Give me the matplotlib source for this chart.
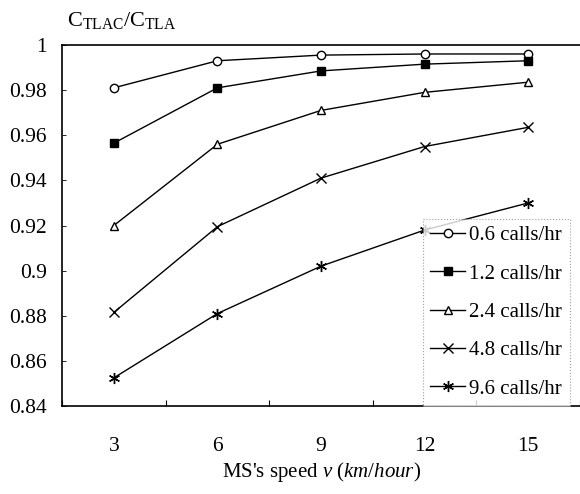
import matplotlib
matplotlib.use("Agg")
import matplotlib.pyplot as plt
import numpy as np

plt.rcParams['font.family'] = ['Liberation Serif', 'DejaVu Serif']
plt.rcParams['mathtext.fontset'] = 'custom'
plt.rcParams['mathtext.rm'] = 'Liberation Serif'
plt.rcParams['mathtext.it'] = 'Liberation Serif:italic'

speeds = ["3", "6", "9", "12", "15"]
labels = ["0.6 calls/hr", "1.2 calls/hr", "2.4 calls/hr", "4.8 calls/hr", "9.6 calls/hr"]
s06 = [0.981, 0.993, 0.9955, 0.996, 0.996]
s12 = [0.9565, 0.981, 0.9885, 0.9915, 0.993]
s24 = [0.920, 0.956, 0.971, 0.979, 0.9835]
s48 = [0.8815, 0.9195, 0.941, 0.955, 0.9635]
s96 = [0.8525, 0.881, 0.902, 0.918, 0.930]
yticks = [0.84, 0.86, 0.88, 0.90, 0.92, 0.94, 0.96, 0.98, 1.0]
ytick_labels = ["0.84", "0.86", "0.88", "0.9", "0.92", "0.94", "0.96", "0.98", "1"]

fig = plt.figure(figsize=(5.8, 4.94), dpi=100)
ax = fig.add_axes([0.107, 0.178, 0.893, 0.731])

x = np.arange(len(speeds))
styles = [
    dict(marker='o', mfc='white', ms=6),
    dict(marker='s', mfc='black', ms=6),
    dict(marker='^', mfc='white', ms=6),
    dict(marker='x', mfc='black', ms=7),
    dict(marker=(6, 2, 0), mfc='black', ms=8),
]
for ys, lab, st in zip([s06, s12, s24, s48, s96], labels, styles):
    ax.plot(x, ys, color='black', lw=1.0, mec='black', mew=1.0, label=lab, **st)

ax.set_xlim(-0.5, len(speeds) - 0.5)
ax.set_ylim(0.84, 1.0)
ax.set_xticks(x)
ax.set_xticklabels(speeds, fontsize=15.5)
ax.set_xticks(np.arange(-0.5, len(speeds)), minor=True)
ax.tick_params(axis='x', which='major', length=0, pad=22)
ax.tick_params(axis='x', which='minor', direction='in', length=4, width=0.8)
ax.set_yticks(yticks)
ax.set_yticklabels(ytick_labels, fontsize=15.5)
ax.tick_params(axis='y', direction='in', length=3, width=0.6, pad=11)

ax.spines['right'].set_visible(False)
for sp in ['left', 'bottom', 'top']:
    ax.spines[sp].set_linewidth(1.2)

ax.set_xlabel(r"MS's speed $\it{v}$ ($\it{km/hour}$)", fontsize=15, labelpad=3)
fig.text(0.115, 0.958, r"C$_{\rm TLAC}$/C$_{\rm TLA}$", fontsize=16, ha='left', va='center')

leg = ax.legend(loc='lower right', bbox_to_anchor=(0.98, 0.0), fontsize=15,
                frameon=True, fancybox=False, handlelength=1.7, handletextpad=0.2,
                labelspacing=0.9, borderpad=0.35, borderaxespad=0.0)
leg.get_frame().set_edgecolor('#888888')
leg.get_frame().set_linestyle(':')
leg.get_frame().set_linewidth(0.8)

fig.savefig("out.png", dpi=100)
